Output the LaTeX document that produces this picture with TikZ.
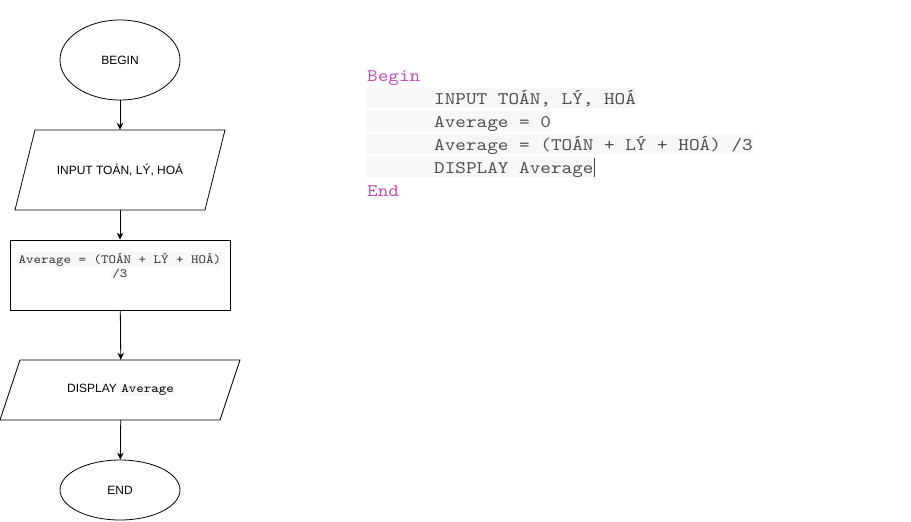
\documentclass[tikz,border=0pt]{standalone}
\usepackage{fontspec}
\setmainfont{Liberation Sans}
\newfontfamily\monofam{lmmono10-regular}[Extension=.otf, FakeStretch=1.143]
\usetikzlibrary{arrows.meta,shapes.geometric}
\definecolor{codebg}{RGB}{247,247,247}
\definecolor{codefg}{RGB}{80,80,80}
\definecolor{kw}{RGB}{192,80,192}
\newcommand\hlbox[1]{{\setlength\fboxsep{1pt}\colorbox{codebg}{#1}}}
\tikzset{
  flow/.style={draw=black, line width=0.8pt},
  term/.style={flow, ellipse, minimum width=120pt, inner sep=0pt, font=\fontsize{12}{14}\selectfont},
  io/.style={minimum width=200pt, minimum height=80pt, inner sep=0pt, font=\fontsize{12}{14}\selectfont},
  procbox/.style={flow, rectangle, minimum width=220pt, minimum height=70pt, inner sep=0pt},
  conn/.style={draw=black, line width=0.8pt, -{Stealth[length=7pt,width=6.5pt]}},
  codeline/.style={anchor=base west, inner sep=0pt, fill=codebg, text=codefg, text height=16pt, text depth=4pt, font=\monofam\fontsize{17.7}{20}\selectfont},
  kwline/.style={anchor=base west, inner sep=0pt, text=kw, font=\monofam\fontsize{17.7}{20}\selectfont}
}
\begin{document}
\begin{tikzpicture}[x=1pt,y=-1pt]
\useasboundingbox[fill=white] (0,0) rectangle (911,522);
% flowchart
\node[term, minimum height=80pt] (begin) at (120,60) {BEGIN};
\node[io] (input) at (120,170) {INPUT TOÁN, LÝ, HOÁ};
\draw[flow] (35,130) -- (225,130) -- (205,210) -- (15,210) -- cycle;
\node[procbox] (calc) at (120,275) {};
\node[anchor=north, inner sep=0pt, align=center, text=black!80, font=\monofam\fontsize{12.5}{14}\selectfont] (calctext) at (120,252)
  {\hlbox{Average = (TOÁN + LÝ + HOÁ)}\\\hlbox{/3}};
\node[io, minimum width=220pt, minimum height=60pt] (disp) at (121,390) {DISPLAY {\monofam\fontsize{12.5}{14}\selectfont\hlbox{Average}}};
\draw[flow] (20,360) -- (240,360) -- (220,420) -- (0,420) -- cycle;
\node[term, minimum height=60pt] (end) at (120,490) {END};
\draw[conn] (begin) -- (input);
\draw[conn] (input) -- (calc);
\draw[conn] (calc) -- (disp);
\draw[conn] (disp) -- (end);
% pseudocode
\node[kwline] (l0) at (367,81) {Begin};
\node[codeline] (l1) at (366,104) {\hspace*{68pt}INPUT TOÁN, LÝ, HOÁ};
\node[codeline] (l2) at (366,127) {\hspace*{68pt}Average = 0};
\node[codeline] (l3) at (366,150) {\hspace*{68pt}Average = (TOÁN + LÝ + HOÁ) /3};
\node[codeline] (l4) at (366,173) {\hspace*{68pt}DISPLAY Average{\color{black!75}\rule[-4pt]{1.6pt}{19pt}}};
\node[kwline] (l5) at (367,196) {End};
\end{tikzpicture}
\end{document}
